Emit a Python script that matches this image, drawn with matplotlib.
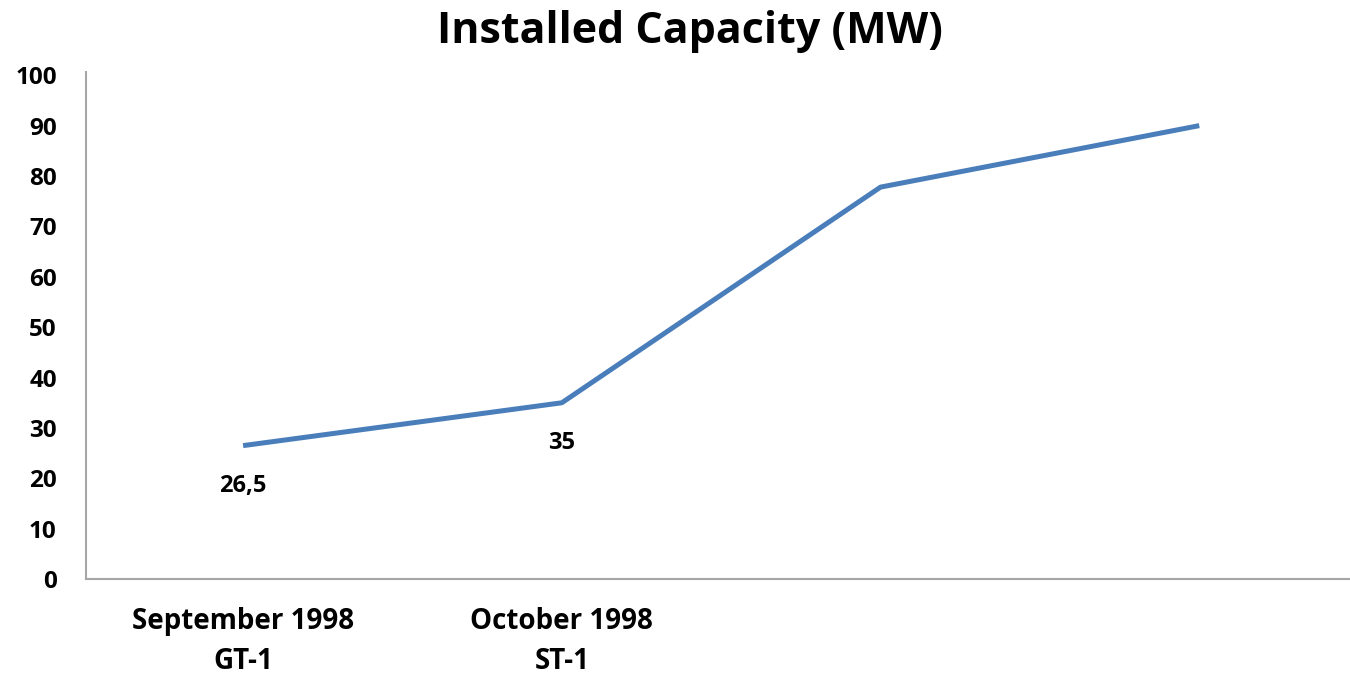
import matplotlib.pyplot as plt

categories = ['September 1998\nGT-1', 'October 1998\nST-1', '', '']
capacity = [26.5, 35, 77.8, 90]
point_labels = ['26,5', '35', '', '']
y_ticks = [0, 10, 20, 30, 40, 50, 60, 70, 80, 90, 100]

plt.rcParams['font.family'] = ['Open Sans', 'DejaVu Sans']

fig = plt.figure(figsize=(13.5, 6.75), dpi=100)
ax = fig.add_axes([0.0637, 0.142, 0.9363, 0.751])

x = list(range(len(categories)))
ax.plot(x, capacity, color='#4A7EBB', linewidth=3.6, solid_capstyle='butt')

for xi, val, lab in zip(x, capacity, point_labels):
    if lab:
        ax.annotate(lab, (xi, val), xytext=(0, -29), textcoords='offset points',
                    ha='center', va='center', fontsize=17, fontweight='bold')

ax.set_xlim(-0.493, 3.473)
ax.set_ylim(0, 100.6)
ax.set_yticks(y_ticks)
ax.set_xticks(x)
ax.set_xticklabels(categories, fontsize=20, fontweight='bold', linespacing=1.5)
for t in ax.get_yticklabels():
    t.set_fontsize(17.5)
    t.set_fontweight('bold')
ax.tick_params(axis='both', length=0)
ax.tick_params(axis='y', pad=21)
ax.tick_params(axis='x', pad=20)

for side in ['top', 'right']:
    ax.spines[side].set_visible(False)
for side in ['left', 'bottom']:
    ax.spines[side].set_color('#A6A6A6')
    ax.spines[side].set_linewidth(1.5)

fig.text(0.511, 0.953, 'Installed Capacity (MW)', ha='center', va='center',
         fontsize=31, fontweight='bold')

fig.savefig('out.png', dpi=100)
